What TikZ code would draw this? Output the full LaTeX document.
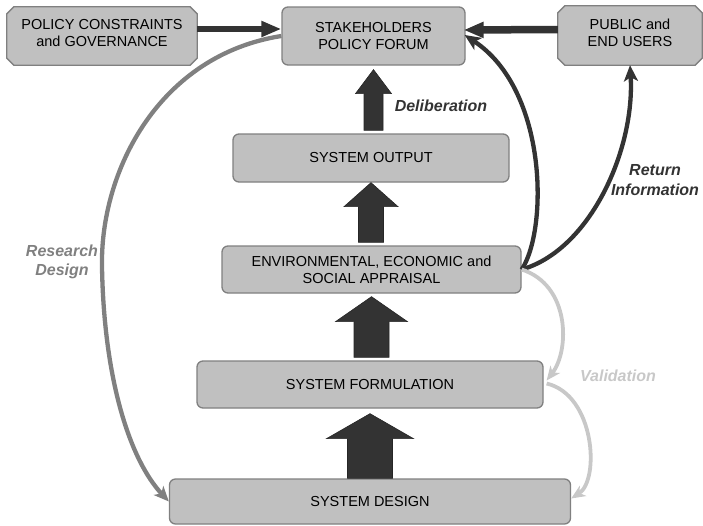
\documentclass[tikz,border=0pt]{standalone}
\usepackage{fontspec}
\setmainfont{Liberation Sans}
\usetikzlibrary{arrows.meta,backgrounds,calc}

\definecolor{boxfill}{HTML}{C0C0C0}
\definecolor{boxline}{HTML}{808080}
\definecolor{ink}{HTML}{333333}
\definecolor{researchgrey}{HTML}{808080}
\definecolor{validgrey}{HTML}{C8C8C8}

\newcommand\boxfont{\fontsize{14.5}{17}\selectfont}
\newcommand\lblfont{\fontsize{16}{19.5}\selectfont\bfseries\itshape}

% vertical block arrow: #1 base point, #2 tip point,
% #3 half shaft width, #4 half head width, #5 head length
\newcommand\liftarrow[5]{%
  \draw[fat] let \p1=#1, \p2=#2 in
    ({\x2-#3},\y1) -- ({\x2-#3},{\y2-#5}) -- ({\x2-#4},{\y2-#5}) --
    (\x2,\y2) -- ({\x2+#4},{\y2-#5}) -- ({\x2+#3},{\y2-#5}) --
    ({\x2+#3},\y1) -- cycle;}

\tikzset{
  box/.style={fill=boxfill, draw=boxline, line width=1.3pt, rounded corners=6pt,
    inner sep=0pt, align=center, font=\boxfont},
  plainbox/.style={inner sep=0pt, align=center, font=\boxfont, text depth=6pt},
  chamfer/.style={fill=boxfill, draw=boxline, line width=1.3pt},
  fat/.style={fill=ink, draw=black!85, line width=0.6pt, line join=miter},
  lbl/.style={font=\lblfont, align=center, inner sep=0pt},
  feed/.style={draw=ink, line width=6pt, -{Triangle[length=20pt,width=15pt]}},
  darkcurve/.style={draw=ink, line width=4.3pt, -{Stealth[length=16pt,width=14pt,inset=4pt]}},
  researchcurve/.style={draw=researchgrey, line width=4.3pt, -{Stealth[length=15pt,width=13pt,inset=4pt]}},
  validcurve/.style={draw=validgrey, line width=3.8pt, -{Stealth[length=14pt,width=12pt,inset=4pt]}},
}

\begin{document}
\begin{tikzpicture}[x=1pt, y=-1pt]
\useasboundingbox (0,0) rectangle (703,525);

% boxes
\node[plainbox, minimum width=190pt, minimum height=58pt] (P) at (102,36)
  {POLICY CONSTRAINTS\\and GOVERNANCE};
\node[box, minimum width=183pt, minimum height=58pt] (S) at (373.5,36)
  {STAKEHOLDERS\\POLICY FORUM};
\node[plainbox, minimum width=144pt, minimum height=59pt] (U) at (630,35.5)
  {PUBLIC and\\END USERS};
\node[box, minimum width=276pt, minimum height=48pt] (O) at (371,158)
  {SYSTEM OUTPUT};
\node[box, minimum width=299pt, minimum height=47pt] (E) at (371.5,269.5)
  {ENVIRONMENTAL, ECONOMIC and\\SOCIAL APPRAISAL};
\node[box, minimum width=346pt, minimum height=47pt] (F) at (370,384.5)
  {SYSTEM FORMULATION};
\node[box, minimum width=401pt, minimum height=45pt] (D) at (370,501.5)
  {SYSTEM DESIGN};

% chamfered outlines behind the two outer boxes
\begin{scope}[on background layer]
  \foreach \n in {P,U}
    \draw[chamfer] ([xshift=7pt]\n.north west) -- ([xshift=-7pt]\n.north east)
      -- ([yshift=-7pt]\n.north east) -- ([yshift=7pt]\n.south east)
      -- ([xshift=-7pt]\n.south east) -- ([xshift=7pt]\n.south west)
      -- ([yshift=7pt]\n.south west) -- ([yshift=-7pt]\n.north west) -- cycle;
\end{scope}

% block arrows up the main chain
\liftarrow{(D.north)}{([yshift=-5pt]F.south)}{22.5pt}{43.5pt}{25pt}
\liftarrow{([yshift=3pt]F.north)}{([yshift=-3pt]E.south)}{17.5pt}{36pt}{25pt}
\liftarrow{([yshift=3pt]E.north)}{(O.south)}{12.5pt}{27pt}{24pt}
\liftarrow{([yshift=3pt]O.north)}{([yshift=-4pt]S.south)}{9.5pt}{18pt}{24pt}

% inputs to the forum
\draw[feed] ([yshift=7pt]P.east) -- ([yshift=7pt]S.west);
\draw[feed, line width=7.5pt] ([yshift=6pt]U.west) -- ([yshift=6pt,xshift=-2pt]S.east);

% appraisal feedback
\draw[darkcurve] (E.east) .. controls (548,230) and (548,90) .. ([yshift=1pt,xshift=-1pt]S.east);
\draw[darkcurve] (E.east) .. controls (590,250) and (635,150) .. (U.south);

% research design loop
\draw[researchcurve] (S.west) .. controls (160,55) and (100,170) .. (102,267)
  .. controls (104,380) and (130,460) .. (D.west);

% validation loop
\draw[validcurve] (E.east) .. controls (570,285) and (570,350) .. ([xshift=3pt,yshift=4pt]F.east);
\draw[validcurve] ([xshift=3pt,yshift=1pt]F.east) .. controls (595,395) and (600,480) .. ([yshift=3pt]D.east);

% labels
\node[lbl, text=ink] (delib) at (441,106) {Deliberation};
\node[lbl, text=ink] (retinfo) at (655,180) {Return\\Information};
\node[lbl, text=researchgrey] (resdes) at (62,262) {Research\\Design};
\node[lbl, text=validgrey] (valid) at (618,376) {Validation};
\end{tikzpicture}
\end{document}
